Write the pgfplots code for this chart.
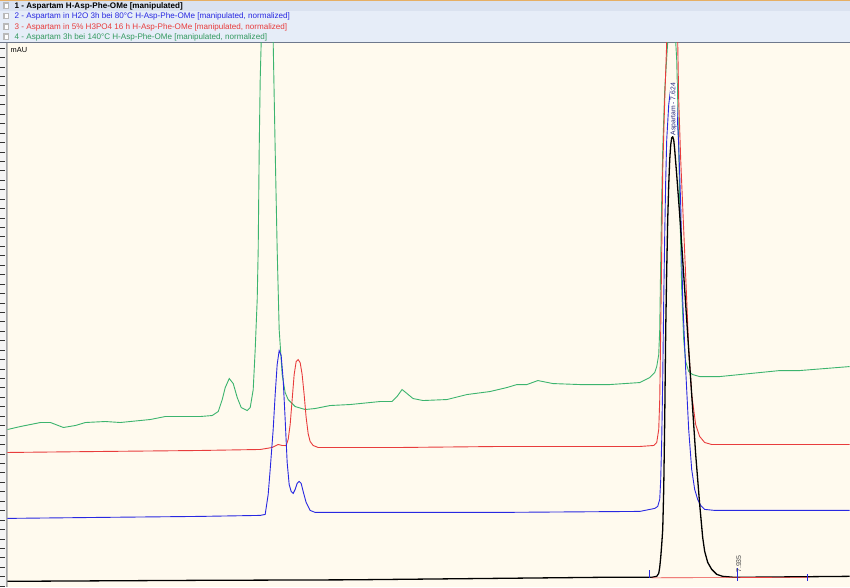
\documentclass[border=0pt]{standalone}
\usepackage{fontspec}
\setmainfont{Liberation Sans}
\usepackage{pgfplots}
\pgfplotsset{compat=1.18}
\definecolor{cream}{RGB}{255,250,238}
\definecolor{hdrblue}{RGB}{230,237,248}
\definecolor{hdrsel}{RGB}{218,226,240}
\definecolor{cgreen}{RGB}{60,180,110}
\definecolor{cred}{RGB}{232,60,60}
\definecolor{cblue}{RGB}{40,40,225}
\definecolor{lblnavy}{RGB}{40,40,120}
\begin{document}
\begin{tikzpicture}
% frame: header, left tick strip, plot background
\fill[white] (0pt,0pt) rectangle (850pt,588pt);
\fill[hdrblue] (0pt,545pt) rectangle (850pt,588pt);
\fill[hdrsel] (0pt,577pt) rectangle (850pt,588pt);
\draw[color={rgb,255:red,230;green,175;blue,100}, line width=0.8pt] (0pt,587.6pt) -- (850pt,587.6pt);
\draw[color={rgb,255:red,110;green,120;blue,140}, line width=1pt] (0pt,545.5pt) -- (850pt,545.5pt);
\fill[cream] (7pt,0pt) rectangle (850pt,545pt);
\fill[gray!8] (0pt,0pt) rectangle (6pt,545pt);
\draw[gray!70, line width=0.6pt] (5.6pt,0pt) -- (5.6pt,545pt);
\draw[gray!50, line width=0.6pt] (7pt,0pt) -- (7pt,545pt);
\foreach \k in {0,...,57} {
  \draw[black!80, line width=0.5pt] (0pt,{(540-9.45*\k)*1pt}) -- (5pt,{(540-9.45*\k)*1pt});
}
% legend rows
\foreach \yy in {579.5,569,558.5,548.5} {
  \fill[gray!55] (3pt,{(\yy-0.5)*1pt}) rectangle (8.5pt,{(\yy+6)*1pt});
  \fill[white] (4.2pt,{(\yy+0.8)*1pt}) rectangle (7.3pt,{(\yy+4.8)*1pt});
}
\node[anchor=base west, inner sep=0pt, font=\fontsize{8.1}{9}\selectfont\bfseries] at (14pt,579.5pt) {1 - Aspartam H-Asp-Phe-OMe [manipulated]};
\node[anchor=base west, inner sep=0pt, text=cblue, font=\fontsize{8.1}{9}\selectfont] at (14pt,569pt) {2 - Aspartam in H2O 3h bei 80°C H-Asp-Phe-OMe [manipulated, normalized]};
\node[anchor=base west, inner sep=0pt, text=cred, font=\fontsize{8.1}{9}\selectfont] at (14pt,558.5pt) {3 - Aspartam in 5\% H3PO4 16 h H-Asp-Phe-OMe [manipulated, normalized]};
\node[anchor=base west, inner sep=0pt, text=cgreen!85!black, font=\fontsize{8.1}{9}\selectfont] at (14pt,548.5pt) {4 - Aspartam 3h bei 140°C  H-Asp-Phe-OMe [manipulated, normalized]};
\node[anchor=base west, inner sep=0pt, font=\fontsize{7.4}{8}\selectfont] at (10pt,535pt) {mAU};
\begin{axis}[
  at={(7pt,0pt)}, anchor=south west,
  scale only axis, width=843pt, height=545pt,
  xmin=7, xmax=850, ymin=43, ymax=588, y dir=reverse,
  hide axis, clip=true,
]
% 4 - green
\addplot[cgreen, line width=0.9pt] coordinates {
(7,430) (20,427) (40,423) (50,423) (63,428) (75,426) (85,423) (105,422) (120,423) (150,420) (165,417) (200,417) (212,416) (218,412) (222,400) (225,388) (229,379) (233,384) (237,398) (241,408) (247,411) (250,408) (253,390) (255,350) (257,300) (258,250) (259,150) (260,80) (261,42) (263,-100) (267,-300) (271,-100) (273,42) (275,150) (277,250) (279,330) (282,375) (285,393) (288,400) (295,407) (305,410) (315,409) (330,406) (350,405) (380,402) (392,402) (397,397) (402,390) (407,394) (413,399) (423,401) (447,400) (467,395) (490,392) (507,388) (517,385) (527,385) (538,381) (553,384) (580,385) (610,385) (640,383) (650,378) (655,373) (657,367) (659,355) (660,330) (661,260) (662,200) (663,150) (665,90) (668,42) (672,-50) (676,42) (677,60) (678,100) (680,200) (682,290) (684,340) (686,362) (689,372) (693,375) (700,377) (720,377) (750,374) (780,371) (800,371) (850,367)
};
% 3 - red
\addplot[cred, line width=0.9pt] coordinates {
(7,453) (100,452) (200,451) (260,450) (272,448) (278,445) (282,446) (286,446) (288,440) (290,425) (292,400) (294,375) (296,362) (298,360) (300,363) (302,375) (304,395) (306,418) (308,434) (310,442) (313,446) (318,448) (350,448) (400,448) (500,447) (640,447) (654,446) (657,443) (659,430) (660,400) (661,330) (662,250) (663,170) (665,100) (667,42) (669,-50) (672,-100) (675,-50) (677,20) (678,42) (679,100) (681,160) (684,230) (687,300) (689,350) (692,395) (696,425) (700,437) (705,443) (712,445) (850,445)
};
% 2 - blue
\addplot[cblue, line width=0.9pt] coordinates {
(7,519) (100,518) (200,517) (260,516) (265,515) (268,495) (270,470) (273,430) (275,395) (277,365) (279,351) (281,356) (283,380) (285,420) (287,463) (289,485) (291,492) (293,494) (295,490) (297,484) (299,482) (301,484) (303,492) (306,503) (310,511) (315,513) (350,513) (500,513) (640,512) (655,509) (658,507) (660,500) (661,480) (662,440) (663,380) (664,300) (665,235) (666,180) (667,140) (669,105) (671,88) (673,84) (675,90) (677,106) (679,145) (681,205) (683,300) (686,370) (689,430) (692,470) (695,490) (698,500) (701,506) (705,510) (715,511) (850,511)
};
% 1 - black
\addplot[black, line width=1.3pt] coordinates {
(7,582) (200,581) (350,580.5) (500,579) (600,578) (652,578) (657,577) (659,574) (660,568) (661,558) (662,545) (663,530) (664,490) (665,420) (666,330) (667,270) (668,220) (669,185) (670,160) (671,145) (672,138) (673,137) (674,140) (675,150) (677,175) (680,215) (684,275) (688,335) (692,395) (696,455) (700,505) (703,538) (705,552) (708,563) (712,570) (717,575) (723,577) (735,578) (850,577)
};
% integration baseline and marks
\addplot[cred, line width=0.6pt] coordinates {(652,578.5) (810,578)};
\addplot[cblue, line width=0.7pt] coordinates {(650,571) (650,579)};
\addplot[cblue, line width=0.7pt] coordinates {(738,569) (738,582)};
\addplot[cblue, line width=0.7pt] coordinates {(808,575) (808,582)};
\node[rotate=90, anchor=west, inner sep=0.4pt, fill=white, text=lblnavy, font=\fontsize{6.8}{8}\selectfont] at (axis cs:674,136) {Aspartam - 7.624};
\node[rotate=90, anchor=west, inner sep=0.4pt, text=black!70, font=\fontsize{7}{8}\selectfont] at (axis cs:739,574) {7.935};
\end{axis}
\end{tikzpicture}
\end{document}
